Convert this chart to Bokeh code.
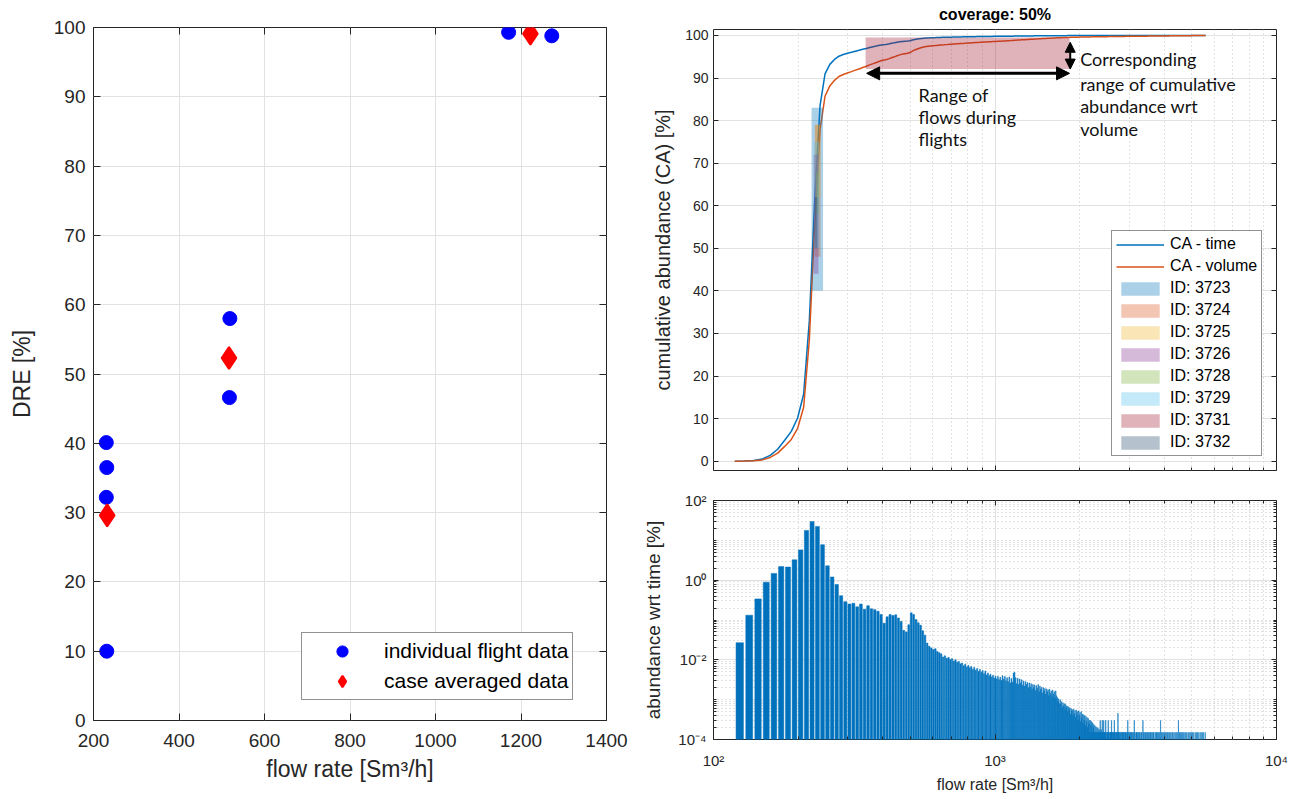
import numpy as np
from bokeh.plotting import figure
from bokeh.models import (Legend, LegendItem, FixedTicker, LinearAxis, CustomLabelingPolicy,
                          Range1d, Label, Arrow, NormalHead)
from bokeh.layouts import row, column
from bokeh.embed import file_html
from bokeh.resources import INLINE

FONT = "Liberation Sans"
TXT = "#262626"
GRID = "#e2e2e2"
MINOR = "#c4c4c4"

# ---------------- left panel data ----------------
flight_flow = [230, 231, 230, 231, 519, 518, 1171, 1272]
flight_dre = [40.1, 36.5, 32.2, 10.0, 58.0, 46.6, 99.3, 98.8]
case_flow = [232, 517, 1222]
case_dre = [29.6, 52.3, 99.1]
left_xticks = [200, 400, 600, 800, 1000, 1200, 1400]
left_yticks = [0, 10, 20, 30, 40, 50, 60, 70, 80, 90, 100]

# ---------------- histogram (abundance wrt time) ----------------
hist_start = 124      # centre of first flow bin [Sm3/h]
hist_width = 10       # bin width [Sm3/h]
hist_log = [          # log10 of abundance [%] per bin (124 ... 2394)
    -1.57, -0.88, -0.47, -0.05, 0.17, 0.34, 0.33, 0.51, 0.76, 1.25,
    1.47, 1.35, 0.89, 0.36, 0.08, -0.11, -0.39, -0.54, -0.60, -0.58,
    -0.67, -0.60, -0.73, -0.64, -0.72, -0.74, -0.78, -0.86, -1.08, -0.92,
    -0.86, -0.89, -0.87, -0.95, -1.04, -1.26, -1.30, -1.12, -0.82, -0.86,
    -0.99, -1.07, -1.13, -1.27, -1.38, -1.58, -1.66, -1.70, -1.74, -1.72,
    -1.79, -1.82, -1.85, -1.93, -1.90, -1.96, -1.94, -1.99, -1.97, -2.03,
    -2.00, -2.06, -2.04, -2.10, -2.08, -2.15, -2.11, -2.18, -2.14, -2.20,
    -2.17, -2.24, -2.19, -2.26, -2.22, -2.29, -2.24, -2.31, -2.27, -2.35,
    -2.28, -2.38, -2.33, -2.40, -2.36, -2.43, -2.39, -2.46, -2.41, -2.48,
    -2.42, -2.50, -2.44, -2.52, -2.40, -2.49, -2.42, -2.53, -2.45, -2.55,
    -2.43, -2.58, -2.47, -2.56, -2.33, -2.31, -2.45, -2.60, -2.46, -2.62,
    -2.48, -2.58, -2.50, -2.64, -2.53, -2.66, -2.55, -2.62, -2.57, -2.70,
    -2.58, -2.68, -2.60, -2.74, -2.62, -2.70, -2.63, -2.77, -2.65, -2.72,
    -2.62, -2.80, -2.66, -2.74, -2.69, -2.83, -2.70, -2.78, -2.72, -2.86,
    -2.73, -2.80, -2.75, -2.90, -2.74, -2.84, -2.78, -2.93, -2.76, -2.86,
    -2.80, -2.96, -2.78, -2.90, -2.95, -3.05, -2.98, -3.10, -3.00, -3.12,
    -3.05, -3.20, -3.08, -3.15, -3.10, -3.25, -3.12, -3.18, -3.16, -3.30,
    -3.18, -3.24, -3.20, -3.36, -3.22, -3.28, -3.25, -3.40, -3.24, -3.35,
    -3.27, -3.45, -3.26, -3.38, -3.30, -3.52, -3.28, -3.40, -3.32, -3.55,
    -3.30, -3.45, -3.36, -3.60, -3.38, -3.52, -3.40, -3.65, -3.42, -3.55,
    -3.45, -3.70, -3.47, -3.60, -3.52, -3.82, -3.52, -3.65, -3.55, -3.82,
    -3.58, -3.70, -3.62, -3.82, -3.65, -3.82, -3.68, -3.82, -3.70, -3.82,
    -3.72, -3.82, -3.75, -3.82, -3.52, -3.82, -3.75, -3.82,
]
tail_unit = 1.51e-4   # abundance [%] of a single sample
tail_counts = [       # samples per bin (2404 ... 5594)
    2, 1, 1, 2, 1, 1, 1, 2, 1, 0, 1, 1, 2, 1, 1, 0, 1, 1, 1, 2,
    1, 1, 0, 1, 1, 2, 1, 0, 1, 1, 1, 0, 1, 3, 1, 1, 0, 1, 1, 0,
    1, 0, 1, 1, 0, 1, 1, 0, 1, 0, 1, 1, 0, 1, 0, 1, 2, 0, 1, 0,
    1, 0, 1, 0, 1, 1, 0, 0, 1, 0, 1, 0, 2, 0, 1, 0, 0, 1, 1, 0,
    1, 0, 0, 1, 0, 1, 0, 1, 0, 0, 1, 0, 1, 0, 0, 2, 0, 1, 0, 0,
    1, 0, 1, 0, 0, 1, 0, 0, 1, 0, 1, 0, 0, 1, 0, 0, 1, 0, 1, 0,
    0, 1, 0, 0, 1, 0, 1, 0, 0, 0, 1, 0, 0, 1, 0, 1, 0, 0, 1, 0,
    0, 1, 0, 0, 1, 0, 0, 2, 0, 0, 1, 0, 0, 1, 0, 0, 0, 1, 0, 0,
    1, 0, 0, 1, 0, 0, 0, 1, 0, 0, 1, 0, 0, 0, 1, 0, 0, 1, 0, 0,
    0, 1, 0, 0, 0, 1, 0, 0, 1, 0, 0, 0, 1, 0, 0, 0, 1, 0, 0, 0,
    1, 0, 0, 0, 1, 0, 0, 0, 2, 0, 0, 0, 1, 0, 0, 1, 0, 0, 0, 1,
    0, 0, 0, 1, 0, 0, 0, 1, 0, 0, 0, 0, 1, 0, 0, 0, 1, 0, 0, 0,
    1, 0, 0, 0, 0, 1, 0, 0, 0, 1, 0, 0, 0, 0, 1, 0, 0, 0, 0, 1,
    0, 0, 0, 1, 0, 0, 0, 0, 1, 0, 0, 0, 0, 0, 1, 0, 0, 0, 0, 1,
    0, 0, 0, 0, 1, 0, 0, 0, 0, 1, 0, 0, 0, 0, 0, 1, 0, 0, 0, 0,
    1, 0, 0, 0, 0, 0, 1, 0, 0, 0, 0, 1, 0, 0, 0, 0, 0, 0, 1, 0,
]

# ---------------- flight ID boxes ----------------
id_labels = ["ID: 3723", "ID: 3724", "ID: 3725", "ID: 3726",
             "ID: 3728", "ID: 3729", "ID: 3731", "ID: 3732"]
id_flow_lo = [223, 229, 230, 227, 231, 228, 347, 229]
id_flow_hi = [245, 240, 240, 236, 237, 238, 1840, 234]
id_ca_lo = [40.0, 48.0, 62.0, 44.0, 58.0, 50.0, 92.1, 50.0]
id_ca_hi = [83.0, 79.0, 79.0, 72.0, 68.0, 75.0, 99.5, 62.0]
id_colors = ["#0072BD", "#D95319", "#EDB120", "#7E2F8E",
             "#77AC30", "#4DBEEE", "#A2142F", "#1F4566"]

# ---------------- derived series ----------------
vals = [10 ** v for v in hist_log] + [c * tail_unit for c in tail_counts]
centers = [hist_start + hist_width * i for i in range(len(vals))]
vals = np.array(vals)
centers = np.array(centers, dtype=float)
edges = np.concatenate([[centers[0] - hist_width / 2], centers + hist_width / 2])
ca_time = np.concatenate([[0.0], np.cumsum(vals) / vals.sum() * 100])
vol = vals * centers
ca_vol = np.concatenate([[0.0], np.cumsum(vol) / vol.sum() * 100])
nz = vals > 0
bar_c = centers[nz]
bar_v = vals[nz]

NO_LABELS = "for (const i of indices) { indices.unset(i) }\nreturn indices"


def make_axis(ticker, tick_size, label_size, tick_in=6, label="", overrides=None):
    ax = LinearAxis(ticker=ticker)
    ax.axis_line_color = None
    ax.major_tick_line_color = TXT
    ax.major_tick_in = tick_in
    ax.major_tick_out = 0
    ax.minor_tick_line_color = TXT
    ax.minor_tick_in = 3
    ax.minor_tick_out = 0
    ax.major_label_text_font = FONT
    ax.major_label_text_font_size = tick_size
    ax.major_label_text_color = TXT
    ax.axis_label = label
    ax.axis_label_text_font = FONT
    ax.axis_label_text_font_size = label_size
    ax.axis_label_text_font_style = "normal"
    ax.axis_label_text_color = TXT
    if overrides:
        ax.major_label_overrides = overrides
    return ax


def blank_axis(ticker, tick_in=6):
    ax = LinearAxis(ticker=ticker)
    ax.major_label_text_font_size = "0px"
    ax.major_label_standoff = 0
    ax.major_label_policy = CustomLabelingPolicy(code=NO_LABELS)
    ax.axis_line_color = None
    ax.major_tick_line_color = TXT
    ax.major_tick_in = tick_in
    ax.major_tick_out = 0
    ax.minor_tick_line_color = TXT
    ax.minor_tick_in = 3
    ax.minor_tick_out = 0
    return ax


# =============== LEFT PANEL ===============
p1 = figure(width=640, height=799, x_range=Range1d(200, 1400), y_range=Range1d(0, 100),
            output_backend="svg", toolbar_location=None,
            x_axis_location=None, y_axis_location=None,
            min_border_left=93, min_border_right=34, min_border_top=27, min_border_bottom=79)
p1.outline_line_color = TXT
p1.outline_line_width = 1
ax = make_axis(FixedTicker(ticks=left_xticks), "19px", "23px", 7, "flow rate [Sm³/h]")
ax.major_label_standoff = 13
ax.axis_label_standoff = 6
p1.add_layout(ax, "below")
ay = make_axis(FixedTicker(ticks=left_yticks), "19px", "23px", 7, "DRE [%]")
ay.major_label_standoff = 8
ay.axis_label_standoff = 16
p1.add_layout(ay, "left")
p1.add_layout(blank_axis(FixedTicker(ticks=left_xticks), 7), "above")
p1.add_layout(blank_axis(FixedTicker(ticks=left_yticks), 7), "right")
p1.xgrid.ticker = FixedTicker(ticks=left_xticks)
p1.ygrid.ticker = FixedTicker(ticks=left_yticks)
p1.grid.grid_line_color = GRID

r_ind = p1.scatter(flight_flow, flight_dre, marker="circle", size=14,
                   fill_color="#0000FF", line_color="#0000FF")
r_case = p1.scatter(case_flow, case_dre, marker="diamond", size=22,
                    fill_color="#FF0000", line_color="#FF0000", line_width=2)
leg1 = Legend(items=[LegendItem(label="individual flight data", renderers=[r_ind]),
                     LegendItem(label="case averaged data", renderers=[r_case])],
              location=(208, 20), orientation="vertical")
leg1.label_text_font = FONT
leg1.label_text_font_size = "21px"
leg1.label_text_color = "#000000"
leg1.glyph_width = 72
leg1.glyph_height = 28
leg1.label_height = 28
leg1.label_standoff = 6
leg1.spacing = 2
leg1.padding = 4
leg1.margin = 0
leg1.border_line_color = TXT
leg1.border_line_width = 1
leg1.background_fill_color = "white"
leg1.background_fill_alpha = 1
p1.add_layout(leg1)

# =============== TOP RIGHT PANEL ===============
x_major = [100, 1000, 10000]
x_minor = [200, 300, 400, 500, 600, 700, 800, 900,
           2000, 3000, 4000, 5000, 6000, 7000, 8000, 9000]
ca_ticks = [0, 10, 20, 30, 40, 50, 60, 70, 80, 90, 100]

p2 = figure(width=650, height=480, x_axis_type="log",
            x_range=Range1d(100, 10000), y_range=Range1d(-2.2, 101.4),
            output_backend="svg", toolbar_location=None,
            x_axis_location=None, y_axis_location=None,
            min_border_left=70, min_border_right=12, min_border_top=28, min_border_bottom=10)
p2.title.text = "coverage: 50%"
p2.title.align = "center"
p2.title.offset = -19
p2.title.vertical_align = "top"
p2.title.text_font = FONT
p2.title.text_font_size = "16px"
p2.title.text_font_style = "bold"
p2.title.text_color = "#000000"
p2.outline_line_color = TXT
p2.add_layout(blank_axis(FixedTicker(ticks=x_major, minor_ticks=x_minor), 5), "below")
p2.add_layout(blank_axis(FixedTicker(ticks=ca_ticks), 5), "right")
ay2 = make_axis(FixedTicker(ticks=ca_ticks), "14px", "20px", 5, "cumulative abundance (CA) [%]")
ay2.major_label_standoff = 5
ay2.axis_label_standoff = 8
p2.add_layout(ay2, "left")
p2.xgrid.ticker = FixedTicker(ticks=x_major, minor_ticks=x_minor)
p2.ygrid.ticker = FixedTicker(ticks=ca_ticks)
p2.grid.grid_line_color = GRID
p2.xgrid.minor_grid_line_color = MINOR
p2.xgrid.minor_grid_line_dash = "1 3"

r_t = p2.line(edges, ca_time, line_color="#0072BD", line_width=1.5)
r_v = p2.line(edges, ca_vol, line_color="#D95319", line_width=1.5)
items = [LegendItem(label="CA - time", renderers=[r_t]),
         LegendItem(label="CA - volume", renderers=[r_v])]
for lab, lo, hi, b, t, c in zip(id_labels, id_flow_lo, id_flow_hi, id_ca_lo, id_ca_hi, id_colors):
    r = p2.quad(left=[lo], right=[hi], bottom=[b], top=[t], fill_color=c,
                fill_alpha=0.33, line_color=None)
    items.append(LegendItem(label=lab, renderers=[r]))

leg2 = Legend(items=items, location=(398, 14), orientation="vertical")
leg2.label_text_font = FONT
leg2.label_text_font_size = "16px"
leg2.label_text_color = "#000000"
leg2.glyph_width = 48
leg2.glyph_height = 17
leg2.label_height = 17
leg2.label_standoff = 6
leg2.spacing = 4
leg2.padding = 4
leg2.margin = 0
leg2.border_line_color = TXT
leg2.background_fill_alpha = 1
p2.add_layout(leg2)

p2.add_layout(Arrow(start=NormalHead(size=13, fill_color="black", line_color="black"),
                    end=NormalHead(size=13, fill_color="black", line_color="black"),
                    x_start=350, y_start=91.1, x_end=1840, y_end=91.1,
                    line_color="black", line_width=3))
p2.add_layout(Arrow(start=NormalHead(size=10, fill_color="black", line_color="black"),
                    end=NormalHead(size=10, fill_color="black", line_color="black"),
                    x_start=1850, y_start=92.1, x_end=1850, y_end=98.4,
                    line_color="black", line_width=2))
for txt, yy in [("Range of", 85.9), ("flows during", 80.8), ("flights", 75.7)]:
    p2.add_layout(Label(x=535, y=yy, text=txt, text_font="Lato", text_font_size="18px",
                        text_color="#111111", text_baseline="alphabetic"))
for txt, yy in [("Corresponding", 94.4), ("range of cumulative", 88.6),
                ("abundance wrt", 83.4), ("volume", 78.1)]:
    p2.add_layout(Label(x=2007, y=yy, text=txt, text_font="Lato", text_font_size="18px",
                        text_color="#111111", text_baseline="alphabetic"))

# =============== BOTTOM RIGHT PANEL ===============
y_major = [1e-4, 1e-2, 1, 100]
y_minor = [k * 10.0 ** e for e in range(-4, 2) for k in range(1, 10)
           if not (k == 1 and e in (-4, -2, 0))]

p3 = figure(width=650, height=319, x_axis_type="log", y_axis_type="log",
            x_range=Range1d(100, 10000), y_range=Range1d(1e-4, 100),
            output_backend="svg", toolbar_location=None,
            x_axis_location=None, y_axis_location=None,
            min_border_left=70, min_border_right=14, min_border_top=20, min_border_bottom=60)
p3.outline_line_color = TXT
bx = make_axis(FixedTicker(ticks=x_major, minor_ticks=x_minor), "15px", "16px", 5,
               "flow rate [Sm³/h]", {100: "10²", 1000: "10³", 10000: "10⁴"})
bx.major_label_standoff = 12
bx.axis_label_standoff = 4
p3.add_layout(bx, "below")
by = make_axis(FixedTicker(ticks=y_major, minor_ticks=y_minor), "15px", "19px", 5,
               "abundance wrt time [%]", {1e-4: "10⁻⁴", 0.01: "10⁻²", 1: "10⁰", 100: "10²"})
by.major_label_standoff = 7
by.axis_label_standoff = 11
p3.add_layout(by, "left")
p3.add_layout(blank_axis(FixedTicker(ticks=x_major, minor_ticks=x_minor), 5), "above")
p3.add_layout(blank_axis(FixedTicker(ticks=y_major, minor_ticks=y_minor), 5), "right")
p3.xgrid.ticker = FixedTicker(ticks=x_major, minor_ticks=x_minor)
p3.ygrid.ticker = FixedTicker(ticks=y_major, minor_ticks=y_minor)
p3.grid.grid_line_color = GRID
p3.grid.minor_grid_line_color = MINOR
p3.grid.minor_grid_line_dash = "1 3"

p3.quad(left=bar_c - 3.75, right=bar_c + 3.75, bottom=1e-6, top=bar_v,
        fill_color="#0072BD", line_color="#0072BD", line_width=0.5)

layout = row(p1, column(p2, p3))
open("out.html", "w").write(file_html(layout, INLINE))
